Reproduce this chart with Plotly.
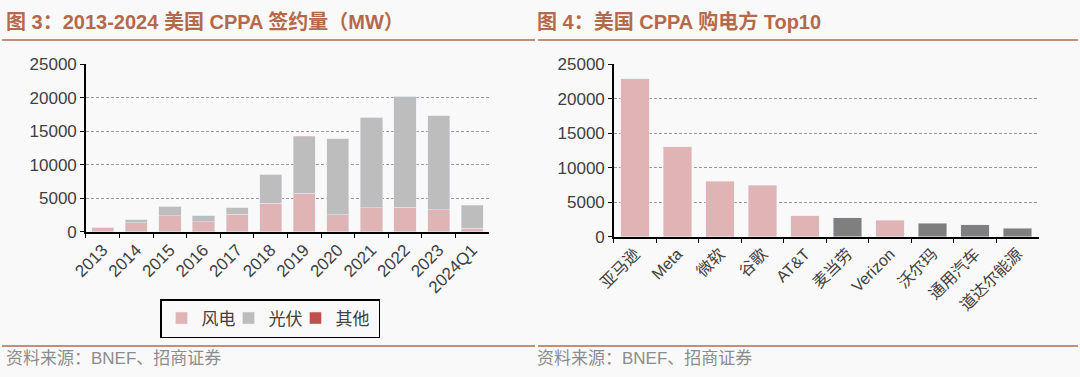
import plotly.graph_objects as go

years = ["2013", "2014", "2015", "2016", "2017", "2018", "2019", "2020", "2021", "2022", "2023", "2024Q1"]
wind = [600, 1350, 2400, 1500, 2600, 4250, 5700, 2500, 3550, 3650, 3250, 500]
solar = [100, 400, 1400, 900, 950, 4300, 8500, 11400, 13500, 16550, 14050, 3400]
other = [0, 0, 20, 0, 20, 30, 30, 0, 60, 30, 20, 20]

buyers = ["亚马逊", "Meta", "微软", "谷歌", "AT&T", "麦当劳", "Verizon", "沃尔玛", "通用汽车", "道达尔能源"]
buyer_mw = [22880, 13050, 8040, 7420, 3030, 2750, 2360, 1970, 1730, 1250]
buyer_dark = [False, False, False, False, False, True, False, True, True, True]

PINK = "#e0b3b4"
GRAY = "#bdbdbd"
RED = "#c0504d"
DARK = "#7f7f7f"
TITLE_C = "#b5694b"
BG = "#f9f9f9"
FONT = "Liberation Sans, Arial, Noto Sans CJK SC, sans-serif"

fig = go.Figure()
fig.add_trace(go.Bar(x=years, y=wind, name="风电", marker_color=PINK, xaxis="x", yaxis="y", legendwidth=22))
fig.add_trace(go.Bar(x=years, y=solar, name="光伏", marker_color=GRAY, xaxis="x", yaxis="y", legendwidth=22))
fig.add_trace(go.Bar(x=years, y=other, name="其他", marker_color=RED, xaxis="x", yaxis="y", legendwidth=38))
fig.add_trace(go.Bar(x=buyers, y=buyer_mw, showlegend=False,
                     marker_color=[DARK if d else PINK for d in buyer_dark],
                     xaxis="x2", yaxis="y2", width=0.67))

axis_common = dict(showline=True, linecolor="black", linewidth=1.5, ticks="outside", automargin=False,
                   ticklen=5, tickcolor="black", tickfont=dict(size=17, color="#404040", family=FONT))
yaxis_common = dict(axis_common, range=[0, 25060], tickvals=[0, 5000, 10000, 15000, 20000, 25000],
                    tickformat="d", showgrid=True,
                    gridcolor="#9a9a9a", griddash="3px,2px", gridwidth=1, zeroline=False, ticklen=4)

fig.update_layout(
    width=1080, height=377,
    margin=dict(l=0, r=0, t=0, b=0),
    paper_bgcolor=BG, plot_bgcolor=BG,
    barmode="stack", bargap=0.34,
    font=dict(family=FONT, color="#404040"),
    xaxis=dict(axis_common, domain=[0.0796, 0.4528], tickson="boundaries", tickangle=-45, anchor="y"),
    yaxis=dict(yaxis_common, domain=[0.3854, 0.831], anchor="x"),
    xaxis2=dict(axis_common, domain=[0.5685, 0.962], tickson="boundaries", tickangle=-45, anchor="y2",
                tickfont=dict(size=16, color="#404040", family=FONT)),
    yaxis2=dict(yaxis_common, domain=[0.3722, 0.831], anchor="x2"),
    legend=dict(orientation="h", x=160 / 1080, y=1 - 299 / 377, xanchor="left", yanchor="top",
                bordercolor="black", borderwidth=1.5, bgcolor=BG, traceorder="normal",
                font=dict(size=17, color="#404040", family="Noto Sans CJK SC"),
                itemwidth=30),
    showlegend=True,
)

fig.add_annotation(text="<b>图 3：2013-2024 美国 CPPA 签约量（MW）</b>", x=4 / 1080, y=1 - 22 / 377,
                   xref="paper", yref="paper", xanchor="left", yanchor="middle", showarrow=False,
                   font=dict(size=20, color=TITLE_C, family=FONT))
fig.add_annotation(text="<b>图 4：美国 CPPA 购电方 Top10</b>", x=535 / 1080, y=1 - 22 / 377,
                   xref="paper", yref="paper", xanchor="left", yanchor="middle", showarrow=False,
                   font=dict(size=20, color=TITLE_C, family=FONT))
for xs in (4 / 1080, 535 / 1080):
    fig.add_annotation(text="资料来源：BNEF、招商证券", x=xs, y=1 - 358 / 377,
                       xref="paper", yref="paper", xanchor="left", yanchor="middle", showarrow=False,
                       font=dict(size=17, color="#8c8c8c", family=FONT))

for x0, x1 in ((2 / 1080, 535 / 1080), (538 / 1080, 1078 / 1080)):
    fig.add_shape(type="line", xref="paper", yref="paper", x0=x0, x1=x1,
                  y0=1 - 40 / 377, y1=1 - 40 / 377, line=dict(color=TITLE_C, width=1.5))
    fig.add_shape(type="line", xref="paper", yref="paper", x0=x0, x1=x1,
                  y0=1 - 346 / 377, y1=1 - 346 / 377, line=dict(color=TITLE_C, width=1.5))

fig.write_html("out.html", config={"displayModeBar": False},
               post_script="document.body.style.margin='0';document.body.style.background='#f9f9f9';")
